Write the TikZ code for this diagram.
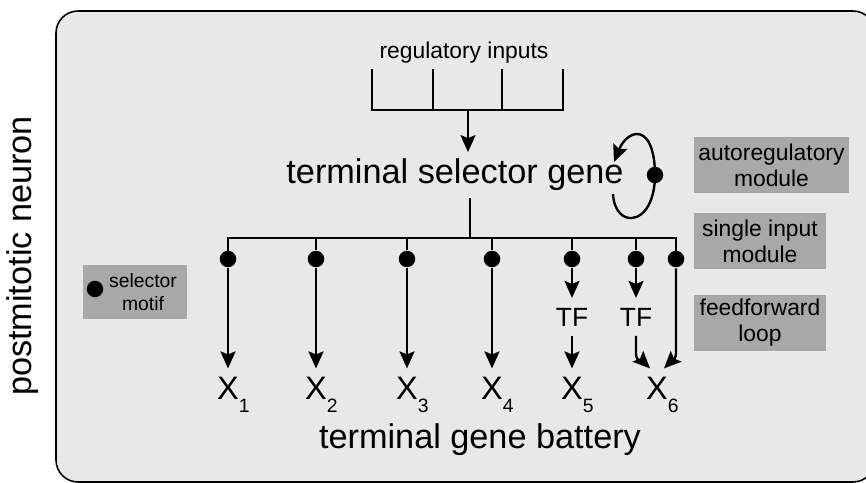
\documentclass[tikz,border=0pt]{standalone}
\usepackage{fontspec}
\setmainfont{Liberation Sans}
\usetikzlibrary{arrows.meta,calc}
\definecolor{cellgray}{RGB}{232,232,232}
\definecolor{modgray}{RGB}{168,168,168}
\newcommand{\bigfont}{\fontsize{19.5}{23}\selectfont}
\newcommand{\midfont}{\fontsize{13}{14.7}\selectfont}
\newcommand{\genesub}[1]{\rlap{\raisebox{-7.4pt}{\fontsize{11}{11}\selectfont#1}}}
\begin{document}
\begin{tikzpicture}[x=0.02cm,y=-0.02cm,line width=1.35pt,
    arr/.style={-{Stealth[length=0.34cm,width=0.3cm,inset=0.06cm]}},
    motif/.style={circle,fill=black,inner sep=0pt,minimum size=0.33cm},
    gene/.style={anchor=base,inner sep=4pt,font=\fontsize{18.5}{20}\selectfont},
    tf/.style={anchor=base,inner sep=5pt,font=\fontsize{15}{17}\selectfont},
    modbox/.style={fill=modgray,align=center,inner sep=0pt,font=\midfont}]
    \useasboundingbox (0,0) rectangle (866,483);
    \clip (0,0) rectangle (866,483);
    \draw[line width=0.9pt,fill=cellgray,rounded corners=0.44cm] (56,11) rectangle (875,482);
    \node[rotate=90,font=\bigfont] (cell) at (23,256) {postmitotic neuron};
    \node[font=\midfont,anchor=base] (inputs) at (464,59) {regulatory inputs};
    \foreach \x in {372,433,502,563}{\draw (\x,69) -- (\x,110);}
    \draw (371,110) -- (564,110);
    \coordinate (comb) at (468,110);
    \node[font=\bigfont,anchor=base] (tsg) at (455,184) {terminal selector gene};
    \draw[arr] (comb) -- (comb |- tsg.north);
    \node[motif] (loopdot) at (655,175) {};
    \coordinate (loopout) at (613,194);
    \coordinate (loopin) at (614,162);
    \draw (loopout) .. controls (614,212) and (624,219) .. (632,218) .. controls (645,217) and (655,200) .. (loopdot.center);
    \draw[arr] (loopdot.center) .. controls (655,150) and (648,133) .. (636,134) .. controls (626,135) and (620,147) .. (loopin);
    \coordinate (bus) at (470,238);
    \draw (tsg.south -| bus) -- (bus);
    \foreach \i/\x in {1/228,2/316,3/407,4/492}{
        \node[motif] (d\i) at (\x,259) {};
        \node[gene] (x\i) at (\x,399) {X\genesub{\i}};
        \draw[arr] (d\i) -- (x\i);
    }
    \node[motif] (d5) at (572,259) {};
    \node[motif] (d6) at (636,259) {};
    \node[motif] (d7) at (676,259) {};
    \draw (d1.center) -- (d1 |- bus) -- (d7 |- bus) -- (d7.center);
    \foreach \i in {2,...,6}{\draw (d\i |- bus) -- (d\i);}
    \node[tf] (tf5) at (572,326) {TF};
    \node[tf] (tf6) at (636,326) {TF};
    \node[gene] (x5) at (572,399) {X\genesub{5}};
    \node[gene] (x6) at (657,399) {X\genesub{6}};
    \draw[arr] (d5) -- (tf5);
    \draw[arr] (tf5) -- (x5);
    \draw[arr] (d6) -- (tf6);
    \draw[arr] (tf6.south) -- ++(0,18) to[out=-90,in=135] ($(x6.north)+(-7,0)$);
    \draw[arr] (d7) -- ++(0,94) to[out=-90,in=45] ($(x6.north)+(7,0)$);
    \node[font=\bigfont,anchor=base] (battery) at (480,448) {terminal gene battery};
    \node[modbox,minimum width=3.1cm,minimum height=1.12cm] (automod) at (771.5,165) {autoregulatory\\module};
    \node[modbox,minimum width=2.64cm,minimum height=1.12cm] (simmod) at (760,241) {single input\\module};
    \node[modbox,minimum width=2.64cm,minimum height=1.12cm] (ffl) at (760,323) {feedforward\\loop};
    \node[modbox,minimum width=2.08cm,minimum height=1.08cm] (legend) at (135,292) {};
    \node[motif] (legdot) at (95,289) {};
    \node[font=\fontsize{11}{13}\selectfont,align=center] (legtext) at (143,292) {selector\\motif};
\end{tikzpicture}
\end{document}
